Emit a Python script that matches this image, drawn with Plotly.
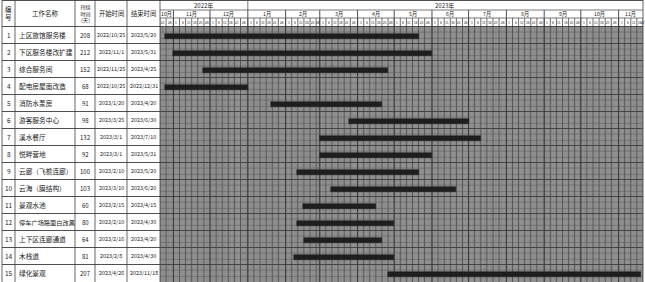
import plotly.graph_objects as go
import pandas as pd

# ---------------- data ----------------
ids = list(range(1, 16))
names = ["上区旅馆服务楼", "下区服务楼改扩建", "综合服务间", "配电房屋面改造", "消防水泵房",
         "游客服务中心", "溪水餐厅", "悦畔营地", "云廊（飞檐连廊）", "云海（膜结构）",
         "景观水池", "停车广场路面白改黑", "上下区连廊通道", "木栈道", "绿化景观"]
durations = [208, 212, 152, 68, 91, 98, 132, 92, 100, 103, 60, 80, 64, 81, 207]
starts = ["2022/10/25", "2022/11/1", "2022/11/25", "2022/10/25", "2023/1/20",
          "2023/3/25", "2023/3/1", "2023/3/1", "2023/2/10", "2023/3/10",
          "2023/2/15", "2023/2/10", "2023/2/16", "2023/2/8", "2023/4/26"]
ends = ["2023/5/20", "2023/5/31", "2023/4/25", "2022/12/31", "2023/4/20",
        "2023/6/30", "2023/7/10", "2023/5/31", "2023/5/20", "2023/6/20",
        "2023/4/15", "2023/4/30", "2023/4/20", "2023/4/30", "2023/11/18"]
headers = ["编<br>号", "工作名称", "持续<br>时间<br>（天）", "开始时间", "结束时间"]
years = ["2022年", "2023年"]
axis_start, axis_end = "2022-10-21", "2023-11-21"

# ---------------- geometry ----------------
W, H = 645, 282
col_px = [2, 15, 75, 95, 127, 160]   # table column boundaries
gx0, gx1 = 160, 643                   # gantt area
def v(p):  # pixel y -> y-axis value (row units)
    return (p - 18) / 17.0
y_top, y_bottom = v(0), v(H)
y_year, y_month, y_body = v(10), v(18), 0.5

FONT = "Noto Sans CJK SC"
fig = go.Figure()

shapes = []
def gline(x0, x1, y0, y1, color, width, xref="x"):
    shapes.append(dict(type="line", xref=xref, yref="y", x0=x0, x1=x1, y0=y0, y1=y1,
                       line=dict(color=color, width=width), layer="below"))

shapes.append(dict(type="rect", xref="paper", yref="y", x0=gx0 / W, x1=gx1 / W,
                   y0=y_body, y1=y_bottom, fillcolor="#a6a6a6", line_width=0, layer="below"))

days = pd.date_range(axis_start, axis_end, freq="D")
for d in days:
    gline(str(d.date()), str(d.date()), y_body, y_bottom, "#6c6c6c", 0.5)
sub_starts = [d for d in days if d.day in (1, 6, 11, 16, 21, 26)]
for d in sub_starts:
    gline(str(d.date()), str(d.date()), y_month, y_bottom, "#4a4a4a", 0.8)
months = pd.date_range("2022-11-01", "2023-11-01", freq="MS")
for d in months:
    gline(str(d.date()), str(d.date()), y_year, y_bottom, "#3a3a3a", 0.9)
for i in ids:
    for off in (-0.17, 0.2):
        gline(gx0 / W, gx1 / W, i + off, i + off, "#5e5e5e", 0.6, xref="paper")

# ---- gantt bars
s = pd.to_datetime(starts, format="%Y/%m/%d")
e = pd.to_datetime(ends, format="%Y/%m/%d") + pd.Timedelta(days=1)
lengths = [(b - a).total_seconds() * 1000 for a, b in zip(s, e)]
fig.add_trace(go.Bar(orientation="h", base=[str(x.date()) for x in s], x=lengths,
                     y=[i + 0.1 for i in ids], width=0.3,
                     marker=dict(color="#1e1e1e", line=dict(color="#1e1e1e", width=0.5)),
                     hoverinfo="skip", showlegend=False))

# ---- table lines
line_c = "#555555"
for xp in col_px + [gx1]:
    shapes.append(dict(type="line", xref="paper", yref="y", x0=xp / W, x1=xp / W,
                       y0=y_top, y1=y_bottom, line=dict(color=line_c, width=0.9)))
for yy in [v(0.5)] + [i + 0.5 for i in range(0, 15)]:
    shapes.append(dict(type="line", xref="paper", yref="y", x0=col_px[0] / W, x1=gx1 / W,
                       y0=yy, y1=yy, line=dict(color="#3c3c3c", width=0.9)))
for yy in (y_year, y_month):
    shapes.append(dict(type="line", xref="paper", yref="y", x0=gx0 / W, x1=gx1 / W,
                       y0=yy, y1=yy, line=dict(color=line_c, width=0.8)))
shapes.append(dict(type="line", xref="x", yref="y", x0="2023-01-01", x1="2023-01-01",
                   y0=y_top, y1=y_year, line=dict(color=line_c, width=0.8)))

# ---- texts
ann = []
def txt(x, y, t, size, xref="paper", xanchor="center"):
    ann.append(dict(x=x, y=y, xref=xref, yref="y", text=t, showarrow=False,
                    xanchor=xanchor, yanchor="middle",
                    font=dict(family=FONT, size=size, color="#1a1a1a")))

hy = (y_top + y_body) / 2
centers = [(col_px[k] + col_px[k + 1]) / 2 / W for k in range(5)]
hsizes = [6.5, 6.5, 5, 6.3, 6.3]
for c, h, sz in zip(centers, headers, hsizes):
    txt(c, hy, h, sz)

for i, n, d, a, b in zip(ids, names, durations, starts, ends):
    txt(centers[0], i, str(i), 6.5)
    txt(17 / W, i, n, min(6.7, 56.0 / len(n)), xanchor="left")
    txt(centers[2], i, str(d), 6)
    txt(centers[3], i, a, 5.4)
    txt(centers[4], i, b, 5.4)

yr_mid = [pd.Timestamp("2022-11-26"), pd.Timestamp("2023-06-11")]
for t, xm in zip(years, yr_mid):
    txt(xm, (y_top + y_year) / 2, t, 6, xref="x")
mstarts = [pd.Timestamp(axis_start)] + list(months) + [pd.Timestamp(axis_end)]
for a, b in zip(mstarts[:-1], mstarts[1:]):
    txt(a + (b - a) / 2, (y_year + y_month) / 2, f"{a.month}月", 5.2, xref="x")
sb = sub_starts + [pd.Timestamp(axis_end)]
for a, b in zip(sb[:-1], sb[1:]):
    txt(a + (b - a) / 2, (y_month + y_body) / 2, str(a.day), 3.3, xref="x")

fig.update_layout(
    width=W, height=H, margin=dict(l=0, r=0, t=0, b=0),
    paper_bgcolor="white", plot_bgcolor="white",
    xaxis=dict(type="date", range=[axis_start, axis_end], domain=[gx0 / W, gx1 / W],
               visible=False, fixedrange=True),
    yaxis=dict(range=[y_bottom, y_top], visible=False, fixedrange=True),
    shapes=shapes, annotations=ann, bargap=0,
)
fig.write_html("out.html")
